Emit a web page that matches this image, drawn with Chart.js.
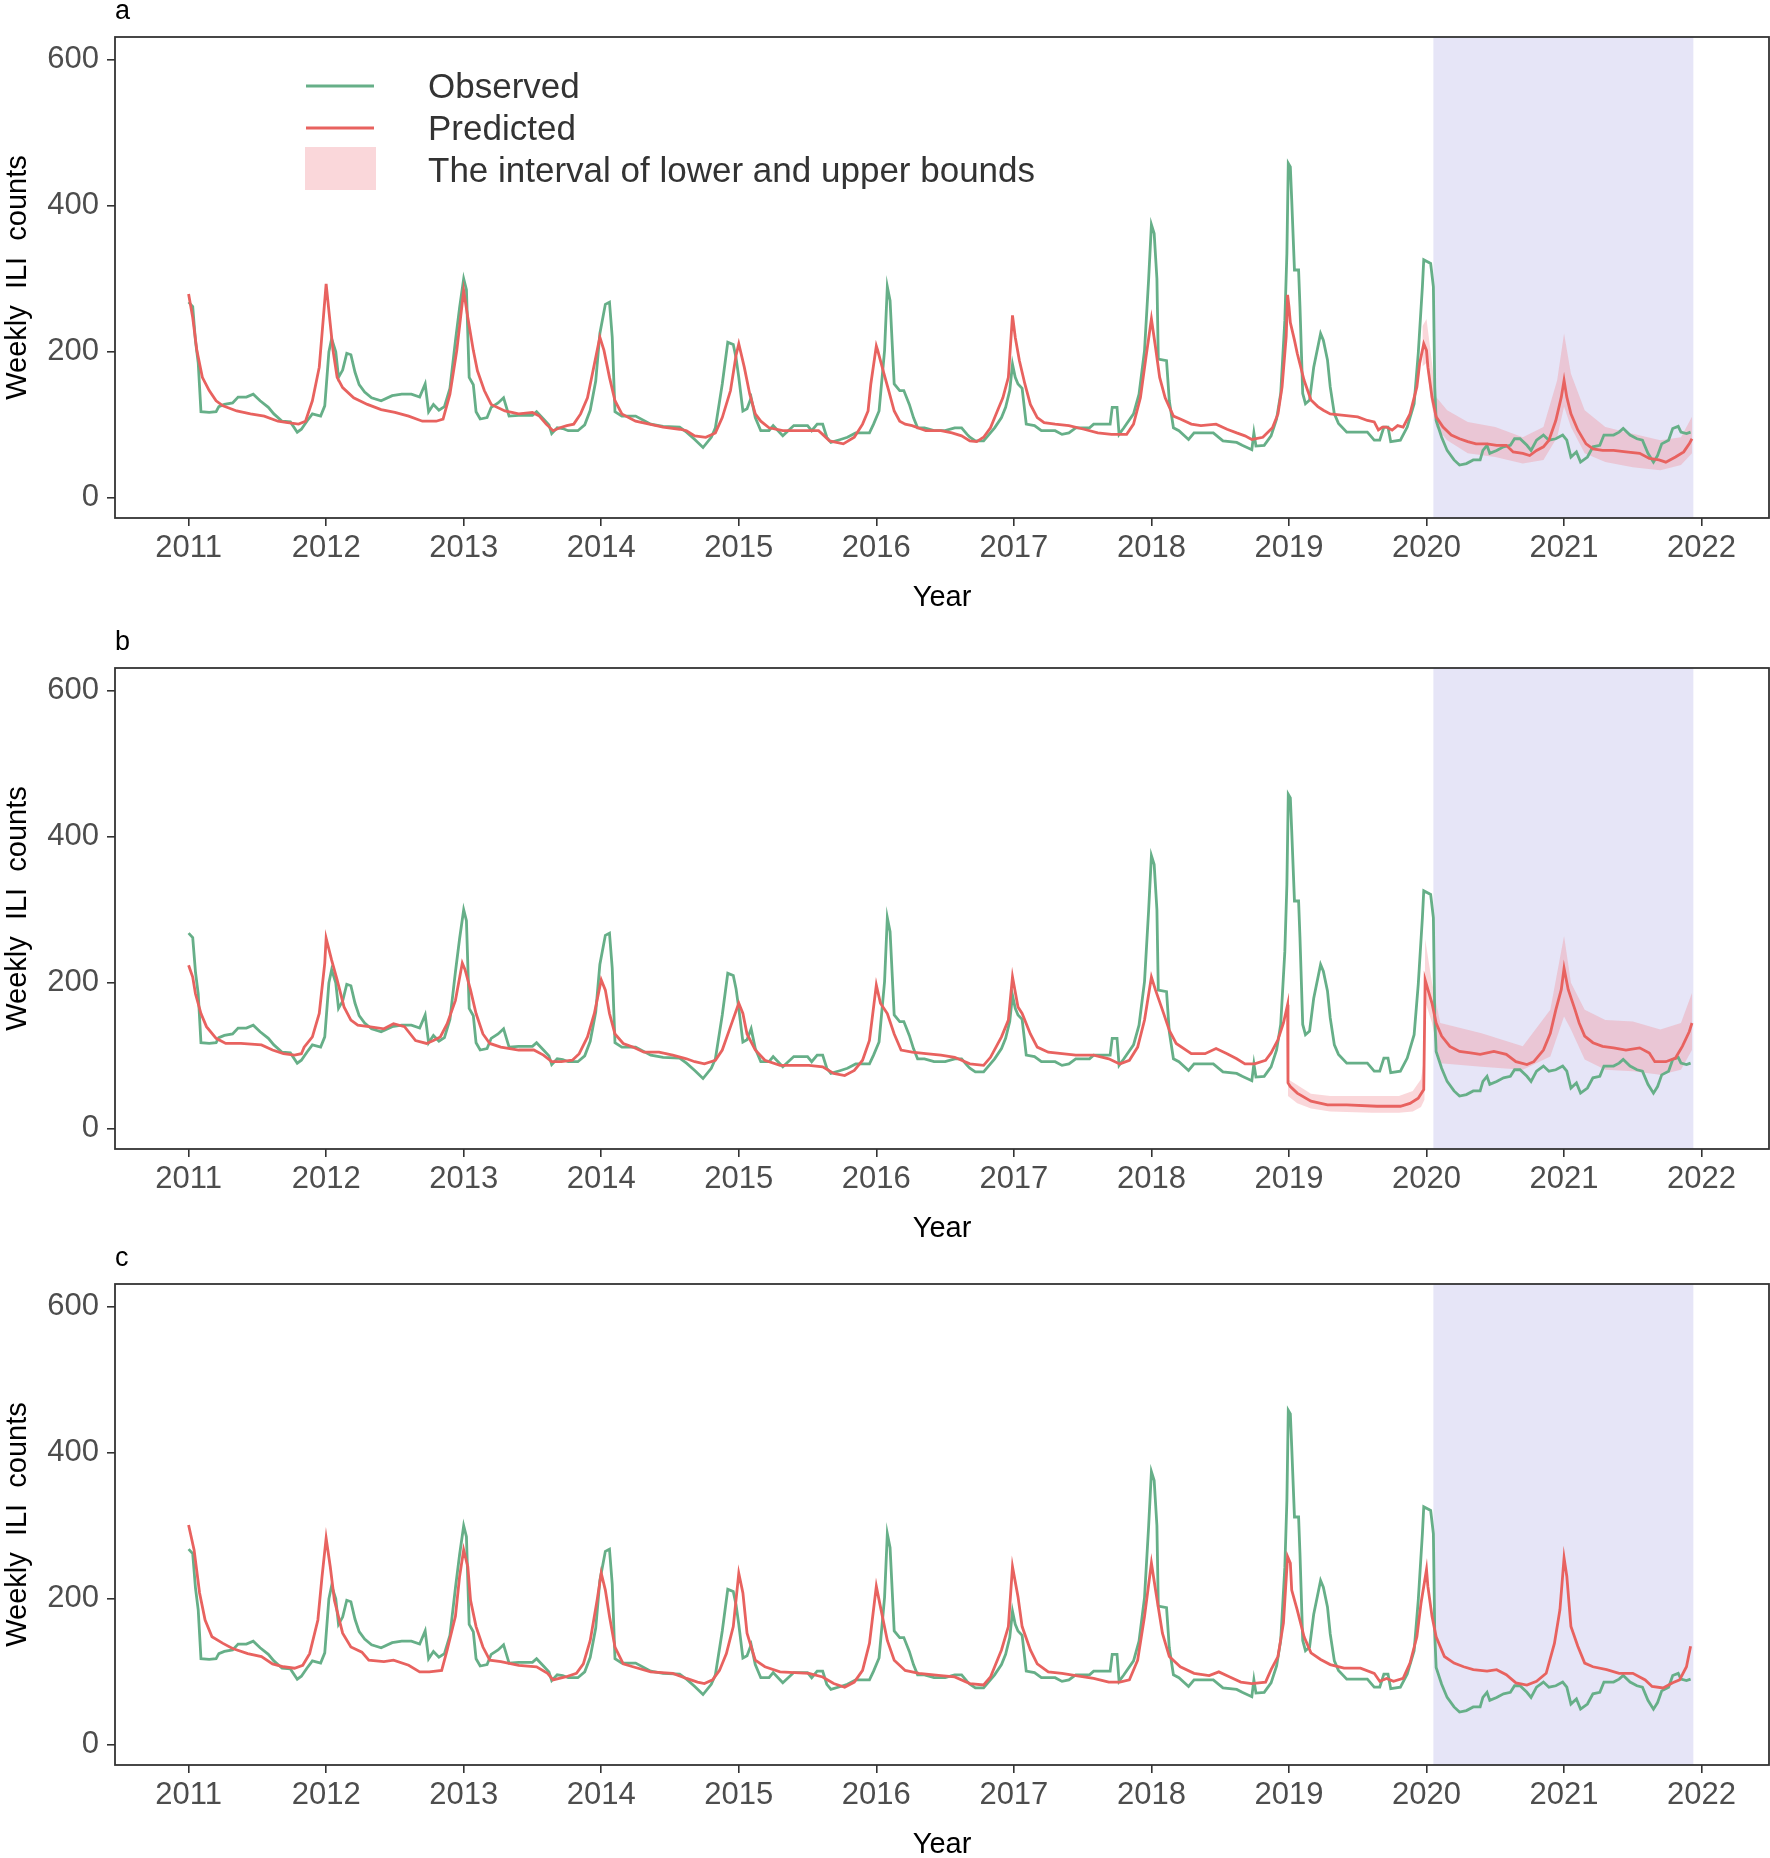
<!DOCTYPE html>
<html>
<head>
<meta charset="utf-8">
<title>Weekly ILI counts</title>
<script src="https://cdn.jsdelivr.net/npm/chart.js@4.4.0/dist/chart.umd.min.js"></script>
<style>
  html, body { margin: 0; padding: 0; background: #fff; overflow: hidden; }
  #wrap { position: relative; width: 1770px; height: 1858px; overflow: hidden; }
  .panel { position: absolute; left: 0; width: 1770px; height: 651px; }
</style>
</head>
<body>
<div id="wrap">
  <div class="panel" style="top:-20px"><canvas id="chartA" width="1770" height="651"></canvas></div>
  <div class="panel" style="top:611px"><canvas id="chartB" width="1770" height="651"></canvas></div>
  <div class="panel" style="top:1227px"><canvas id="chartC" width="1770" height="651"></canvas></div>
</div>
<script>
// ---- data: [year, weekly ILI count] ----
const yearTicks = [2011, 2012, 2013, 2014, 2015, 2016, 2017, 2018, 2019, 2020, 2021, 2022]
const countTicks = [0, 200, 400, 600]
const forecastWindow = [2020.05, 2021.94]

const observed = [
  [2011.00,268],[2011.03,262],[2011.05,215],[2011.07,185],[2011.09,118],[2011.15,117],[2011.20,118],[2011.22,125],
  [2011.26,128],[2011.32,130],[2011.36,138],[2011.42,138],[2011.47,142],[2011.52,133],[2011.58,124],[2011.62,115],
  [2011.68,105],[2011.74,104],[2011.79,90],[2011.82,94],[2011.86,105],[2011.90,115],[2011.96,112],[2011.99,126],
  [2012.02,200],[2012.04,218],[2012.07,200],[2012.09,165],[2012.12,175],[2012.15,198],[2012.18,196],[2012.21,172],
  [2012.24,155],[2012.28,145],[2012.33,137],[2012.40,133],[2012.48,140],[2012.55,142],[2012.62,142],[2012.68,138],
  [2012.72,156],[2012.745,118],[2012.78,128],[2012.82,120],[2012.86,125],[2012.90,150],[2012.94,215],[2012.97,260],
  [2013.00,300],[2013.02,285],[2013.04,165],[2013.07,155],[2013.09,118],[2013.12,108],[2013.17,110],[2013.20,124],
  [2013.25,130],[2013.29,137],[2013.33,112],[2013.40,113],[2013.50,113],[2013.53,118],[2013.58,108],[2013.62,100],
  [2013.64,88],[2013.68,96],[2013.72,95],[2013.76,92],[2013.83,92],[2013.88,100],[2013.92,120],[2013.96,160],
  [2013.99,225],[2014.03,265],[2014.06,268],[2014.08,220],[2014.10,118],[2014.15,112],[2014.25,112],[2014.36,101],
  [2014.45,98],[2014.57,97],[2014.62,90],[2014.68,80],[2014.74,69],[2014.80,83],[2014.83,96],[2014.88,156],
  [2014.92,213],[2014.96,210],[2014.98,192],[2015.00,165],[2015.03,119],[2015.06,122],[2015.09,137],[2015.12,110],
  [2015.16,92],[2015.22,92],[2015.25,99],[2015.32,85],[2015.40,99],[2015.50,99],[2015.53,92],[2015.57,101],
  [2015.61,101],[2015.64,83],[2015.67,76],[2015.74,80],[2015.79,83],[2015.85,89],[2015.95,89],[2015.98,101],
  [2016.02,119],[2016.06,202],[2016.08,289],[2016.10,270],[2016.13,156],[2016.17,147],[2016.20,147],[2016.24,128],
  [2016.27,110],[2016.30,96],[2016.35,96],[2016.42,92],[2016.50,92],[2016.57,96],[2016.62,96],[2016.66,87],
  [2016.68,83],[2016.72,78],[2016.78,78],[2016.82,87],[2016.86,96],[2016.91,110],[2016.94,124],[2016.97,147],
  [2016.99,183],[2017.01,165],[2017.03,156],[2017.06,150],[2017.09,101],[2017.15,99],[2017.20,92],[2017.30,92],
  [2017.35,87],[2017.40,89],[2017.45,96],[2017.55,96],[2017.58,101],[2017.70,101],[2017.715,124],[2017.75,124],
  [2017.765,87],[2017.80,96],[2017.87,115],[2017.91,142],[2017.95,202],[2017.98,300],[2018.00,374],[2018.02,362],
  [2018.04,300],[2018.05,190],[2018.11,188],[2018.13,133],[2018.16,96],[2018.20,92],[2018.27,80],[2018.31,89],
  [2018.45,89],[2018.52,78],[2018.62,76],[2018.66,72],[2018.73,66],[2018.745,89],[2018.76,71],[2018.82,72],
  [2018.87,85],[2018.91,108],[2018.94,143],[2018.97,243],[2018.985,335],[2018.995,458],[2019.01,453],[2019.02,408],
  [2019.04,312],[2019.07,312],[2019.08,262],[2019.10,143],[2019.12,129],[2019.15,134],[2019.18,179],[2019.23,225],
  [2019.25,216],[2019.28,189],[2019.30,152],[2019.33,115],[2019.36,102],[2019.42,90],[2019.57,90],[2019.62,79],
  [2019.66,79],[2019.69,97],[2019.72,97],[2019.74,77],[2019.81,79],[2019.86,97],[2019.91,129],[2019.94,198],
  [2019.97,289],[2019.98,326],[2020.03,321],[2020.05,289],[2020.06,152],[2020.07,106],[2020.11,83],[2020.15,65],
  [2020.20,52],[2020.24,45],[2020.29,47],[2020.34,52],[2020.39,52],[2020.41,65],[2020.44,72],[2020.46,61],
  [2020.51,65],[2020.56,70],[2020.61,72],[2020.64,81],[2020.68,81],[2020.73,72],[2020.76,65],[2020.80,79],
  [2020.85,86],[2020.89,79],[2020.94,81],[2020.99,86],[2021.02,79],[2021.05,56],[2021.09,63],[2021.12,49],
  [2021.17,56],[2021.21,70],[2021.26,72],[2021.29,86],[2021.36,86],[2021.40,90],[2021.43,95],[2021.48,86],
  [2021.53,81],[2021.57,79],[2021.61,61],[2021.65,49],[2021.68,58],[2021.71,74],[2021.76,79],[2021.79,95],
  [2021.83,98],[2021.85,90],[2021.89,88],[2021.92,90]
]

const predictedA = [
  [2011.00,279],[2011.03,247],[2011.06,202],[2011.10,165],[2011.15,147],[2011.20,133],[2011.25,126],[2011.35,119],
  [2011.45,115],[2011.55,112],[2011.65,105],[2011.72,103],[2011.80,101],[2011.85,105],[2011.90,133],[2011.95,179],
  [2011.98,247],[2012.00,293],[2012.02,256],[2012.05,202],[2012.08,165],[2012.12,151],[2012.20,137],[2012.30,128],
  [2012.40,121],[2012.50,117],[2012.60,112],[2012.70,105],[2012.80,105],[2012.85,108],[2012.90,142],[2012.95,202],
  [2013.00,284],[2013.03,247],[2013.07,202],[2013.10,174],[2013.15,147],[2013.20,128],[2013.30,119],[2013.40,115],
  [2013.50,117],[2013.55,112],[2013.60,101],[2013.65,92],[2013.70,96],[2013.75,99],[2013.80,101],[2013.85,115],
  [2013.90,137],[2013.95,183],[2013.99,220],[2014.02,202],[2014.06,165],[2014.10,133],[2014.15,115],[2014.25,105],
  [2014.35,101],[2014.45,97],[2014.57,94],[2014.62,92],[2014.68,85],[2014.76,83],[2014.83,89],[2014.88,110],
  [2014.94,147],[2014.98,195],[2015.00,211],[2015.04,179],[2015.08,142],[2015.12,115],[2015.16,105],[2015.22,96],
  [2015.32,92],[2015.45,92],[2015.58,92],[2015.61,87],[2015.66,78],[2015.76,74],[2015.84,83],[2015.90,101],
  [2015.94,119],[2015.96,156],[2016.00,208],[2016.01,202],[2016.05,174],[2016.09,147],[2016.13,119],[2016.17,105],
  [2016.21,101],[2016.26,99],[2016.36,92],[2016.47,92],[2016.55,89],[2016.62,85],[2016.68,78],[2016.73,77],
  [2016.78,83],[2016.83,96],[2016.88,119],[2016.92,137],[2016.96,165],[2016.99,250],[2017.01,220],[2017.04,188],
  [2017.08,156],[2017.12,128],[2017.17,110],[2017.22,103],[2017.30,101],[2017.40,99],[2017.51,94],[2017.61,89],
  [2017.71,87],[2017.82,87],[2017.87,101],[2017.92,137],[2017.96,192],[2018.00,245],[2018.03,206],[2018.06,165],
  [2018.10,137],[2018.16,112],[2018.21,108],[2018.29,101],[2018.36,99],[2018.47,101],[2018.55,94],[2018.62,89],
  [2018.68,85],[2018.73,80],[2018.81,83],[2018.88,96],[2018.92,115],[2018.95,152],[2018.98,221],[2018.99,278],
  [2019.00,262],[2019.01,240],[2019.04,216],[2019.06,198],[2019.11,161],[2019.16,134],[2019.21,125],[2019.25,120],
  [2019.30,115],[2019.40,113],[2019.50,111],[2019.57,106],[2019.62,104],[2019.65,93],[2019.68,97],[2019.71,97],
  [2019.75,93],[2019.79,99],[2019.83,97],[2019.88,115],[2019.93,152],[2019.95,184],[2019.98,211],[2020.00,202],
  [2020.01,179],[2020.04,138],[2020.07,111],[2020.12,97],[2020.18,86],[2020.24,81],[2020.30,77],[2020.36,74],
  [2020.44,74],[2020.51,72],[2020.58,72],[2020.63,63],[2020.70,61],[2020.75,58],[2020.80,65],[2020.85,70],
  [2020.89,79],[2020.94,106],[2020.98,138],[2021.00,161],[2021.02,138],[2021.05,115],[2021.10,93],[2021.16,74],
  [2021.21,67],[2021.28,65],[2021.36,65],[2021.45,63],[2021.55,61],[2021.62,54],[2021.69,52],[2021.74,49],
  [2021.81,56],[2021.87,63],[2021.91,74],[2021.93,81]
]

const predictedB = [
  [2011.00,224],[2011.03,208],[2011.05,185],[2011.09,158],[2011.13,140],[2011.20,124],[2011.27,117],[2011.38,117],
  [2011.53,115],[2011.61,108],[2011.69,103],[2011.77,101],[2011.82,103],[2011.84,112],[2011.90,126],[2011.95,158],
  [2011.99,227],[2012.00,261],[2012.04,231],[2012.08,204],[2012.13,167],[2012.18,149],[2012.23,142],[2012.31,140],
  [2012.42,137],[2012.49,144],[2012.57,140],[2012.65,121],[2012.73,117],[2012.78,121],[2012.83,126],[2012.88,144],
  [2012.94,176],[2012.99,227],[2013.01,218],[2013.05,190],[2013.09,158],[2013.14,130],[2013.19,117],[2013.27,112],
  [2013.40,108],[2013.51,108],[2013.58,101],[2013.64,92],[2013.71,92],[2013.79,94],[2013.84,103],[2013.90,126],
  [2013.95,158],[2014.00,204],[2014.03,190],[2014.06,158],[2014.10,130],[2014.16,117],[2014.23,112],[2014.31,105],
  [2014.42,105],[2014.52,101],[2014.62,96],[2014.68,92],[2014.75,89],[2014.83,94],[2014.88,108],[2014.94,140],
  [2015.00,172],[2015.03,158],[2015.06,130],[2015.12,108],[2015.19,94],[2015.30,87],[2015.51,87],[2015.61,85],
  [2015.69,76],[2015.77,73],[2015.84,80],[2015.90,94],[2015.95,121],[2016.00,197],[2016.03,172],[2016.08,158],
  [2016.13,130],[2016.18,108],[2016.26,105],[2016.36,103],[2016.47,101],[2016.57,98],[2016.68,89],[2016.78,87],
  [2016.83,98],[2016.91,126],[2016.96,149],[2016.99,208],[2017.03,167],[2017.06,158],[2017.12,130],[2017.17,112],
  [2017.25,105],[2017.35,103],[2017.45,101],[2017.58,101],[2017.69,96],[2017.77,89],[2017.84,94],[2017.90,112],
  [2017.95,149],[2018.00,208],[2018.03,190],[2018.08,163],[2018.13,135],[2018.18,117],[2018.29,103],[2018.39,103],
  [2018.47,110],[2018.55,103],[2018.62,96],[2018.68,89],[2018.75,89],[2018.83,94],[2018.87,104],[2018.92,122],
  [2018.96,145],[2018.99,170],[2018.993,63],[2019.01,58],[2019.06,49],[2019.16,38],[2019.28,33],[2019.42,33],
  [2019.64,31],[2019.81,31],[2019.88,35],[2019.94,42],[2019.98,54],[2019.99,204],[2020.01,191],[2020.04,172],
  [2020.07,145],[2020.11,127],[2020.17,113],[2020.24,106],[2020.32,104],[2020.39,102],[2020.49,106],[2020.58,102],
  [2020.65,92],[2020.73,88],[2020.78,92],[2020.85,108],[2020.90,131],[2020.94,163],[2020.98,191],[2021.00,220],
  [2021.03,191],[2021.08,163],[2021.11,145],[2021.15,127],[2021.21,118],[2021.28,113],[2021.36,111],[2021.45,108],
  [2021.55,111],[2021.62,104],[2021.66,92],[2021.74,92],[2021.81,97],[2021.86,113],[2021.91,133],[2021.93,145]
]

const predictedC = [
  [2011.00,301],[2011.04,267],[2011.08,208],[2011.12,171],[2011.17,148],[2011.25,139],[2011.32,132],[2011.43,125],
  [2011.53,121],[2011.61,111],[2011.69,107],[2011.77,105],[2011.83,109],[2011.88,125],[2011.94,171],[2011.97,230],
  [2012.00,283],[2012.03,244],[2012.06,198],[2012.12,153],[2012.18,134],[2012.26,127],[2012.31,116],[2012.42,114],
  [2012.49,116],[2012.60,109],[2012.68,100],[2012.75,100],[2012.84,102],[2012.88,130],[2012.94,176],[2012.97,230],
  [2013.00,267],[2013.03,244],[2013.05,198],[2013.09,162],[2013.14,134],[2013.19,116],[2013.27,114],[2013.40,109],
  [2013.53,107],[2013.61,98],[2013.65,89],[2013.74,93],[2013.82,98],[2013.87,111],[2013.92,143],[2013.97,198],
  [2014.00,235],[2014.03,212],[2014.06,176],[2014.10,134],[2014.16,111],[2014.23,107],[2014.36,100],[2014.52,98],
  [2014.62,91],[2014.70,86],[2014.75,84],[2014.81,89],[2014.86,102],[2014.91,125],[2014.96,162],[2015.00,235],
  [2015.03,208],[2015.06,153],[2015.12,116],[2015.19,107],[2015.30,100],[2015.51,98],[2015.61,93],[2015.69,84],
  [2015.77,79],[2015.84,86],[2015.90,102],[2015.95,139],[2016.00,217],[2016.03,189],[2016.08,143],[2016.13,116],
  [2016.21,102],[2016.31,98],[2016.47,95],[2016.57,93],[2016.68,84],[2016.78,82],[2016.83,93],[2016.91,130],
  [2016.96,162],[2016.99,244],[2017.03,203],[2017.06,162],[2017.12,130],[2017.17,111],[2017.25,100],[2017.35,98],
  [2017.45,95],[2017.58,91],[2017.69,86],[2017.77,86],[2017.84,89],[2017.90,116],[2017.95,176],[2018.00,249],
  [2018.03,212],[2018.08,153],[2018.13,121],[2018.21,107],[2018.31,98],[2018.42,95],[2018.49,100],[2018.57,93],
  [2018.65,86],[2018.73,84],[2018.83,86],[2018.87,103],[2018.92,121],[2018.96,167],[2018.99,258],[2019.01,249],
  [2019.02,212],[2019.06,185],[2019.11,148],[2019.16,126],[2019.23,117],[2019.30,110],[2019.40,105],[2019.52,105],
  [2019.62,98],[2019.66,87],[2019.71,91],[2019.76,87],[2019.83,91],[2019.88,112],[2019.93,148],[2019.96,194],
  [2020.00,240],[2020.01,217],[2020.04,176],[2020.07,148],[2020.13,121],[2020.20,112],[2020.27,107],[2020.34,103],
  [2020.44,101],[2020.51,103],[2020.58,96],[2020.65,85],[2020.73,82],[2020.80,87],[2020.87,98],[2020.93,139],
  [2020.97,185],[2021.00,256],[2021.02,231],[2021.05,162],[2021.10,135],[2021.15,112],[2021.21,107],[2021.31,103],
  [2021.40,98],[2021.50,98],[2021.59,89],[2021.64,80],[2021.72,78],[2021.79,85],[2021.84,89],[2021.89,107],
  [2021.92,135]
]

// [year, lower bound, upper bound]
const intervalA = [
  [2019.97,180,235],[2020.00,185,245],[2020.03,135,200],[2020.07,97,138],[2020.15,79,120],[2020.30,61,104],
  [2020.50,56,97],[2020.70,47,83],[2020.85,52,97],[2020.95,83,161],[2021.00,125,225],[2021.05,97,170],
  [2021.15,61,120],[2021.30,49,97],[2021.50,42,88],[2021.70,38,79],[2021.85,45,83],[2021.93,61,111]
]

const intervalB = [
  [2018.993,45,68],[2019.06,35,60],[2019.16,28,48],[2019.30,24,45],[2019.60,22,45],[2019.80,22,45],
  [2019.90,24,52],[2019.96,30,68],[2019.985,40,100],[2019.99,175,260],[2020.04,145,200],[2020.10,90,145],
  [2020.40,85,131],[2020.70,81,113],[2020.90,99,163],[2021.00,154,264],[2021.05,136,200],[2021.15,95,163],
  [2021.30,81,149],[2021.50,79,147],[2021.70,74,136],[2021.85,81,145],[2021.93,108,186]
]

const GREEN = "#66AF88"
const RED = "#E8625F"
const BAND = "rgba(240,140,150,0.35)"
const SHADE = "#E6E5F7"
const FONT = "'Liberation Sans', Arial, sans-serif"

Chart.defaults.font.family = FONT

function toXY(rows, col = 1) {
  return rows.map(r => ({ x: r[0], y: r[col] }))
}

const shadePlugin = {
  id: "shade",
  beforeDatasetsDraw(chart) {
    const { ctx, chartArea } = chart
    const x = chart.scales.x
    ctx.save()
    ctx.fillStyle = SHADE
    const x0 = x.getPixelForValue(forecastWindow[0])
    const x1 = x.getPixelForValue(forecastWindow[1])
    ctx.fillRect(x0, chartArea.top, x1 - x0, chartArea.bottom - chartArea.top)
    ctx.restore()
  }
}

const framePlugin = {
  id: "frame",
  afterDraw(chart, args, opts) {
    const { ctx, chartArea } = chart
    const top = chartArea.top
    ctx.save()
    ctx.strokeStyle = "#333"
    ctx.lineWidth = 1.8
    ctx.strokeRect(chartArea.left, top, chartArea.right - chartArea.left, chartArea.bottom - top)
    // panel letter
    ctx.fillStyle = "#000"
    ctx.font = `27px ${FONT}`
    ctx.textBaseline = "alphabetic"
    ctx.textAlign = "left"
    ctx.fillText(opts.letter, 115, top - 18)
    if (opts.legend) {
      ctx.lineWidth = 2.8
      ctx.strokeStyle = GREEN
      ctx.beginPath(); ctx.moveTo(306, top + 49); ctx.lineTo(374, top + 49); ctx.stroke()
      ctx.strokeStyle = RED
      ctx.beginPath(); ctx.moveTo(306, top + 91); ctx.lineTo(374, top + 91); ctx.stroke()
      ctx.fillStyle = BAND
      ctx.fillRect(305, top + 110, 71, 43)
      ctx.fillStyle = "#333"
      ctx.font = `35px ${FONT}`
      ctx.textBaseline = "middle"
      ctx.fillText("Observed", 428, top + 51)
      ctx.fillText("Predicted", 428, top + 93)
      ctx.fillText("The interval of lower and upper bounds", 428, top + 135)
    }
    ctx.restore()
  }
}

function makePanel(id, letter, predicted, interval, legend) {
  const datasets = []
  if (interval) {
    datasets.push({
      data: toXY(interval, 1), borderWidth: 0, pointRadius: 0, fill: false, order: 3
    })
    datasets.push({
      data: toXY(interval, 2), borderWidth: 0, pointRadius: 0, fill: "-1",
      backgroundColor: BAND, order: 3
    })
  }
  datasets.push({
    label: "Observed", data: toXY(observed), borderColor: GREEN, borderWidth: 2.8,
    pointRadius: 0, tension: 0, fill: false, order: 2
  })
  datasets.push({
    label: "Predicted", data: toXY(predicted), borderColor: RED, borderWidth: 2.8,
    pointRadius: 0, tension: 0, fill: false, order: 1
  })

  const gridOpts = { drawOnChartArea: false, drawTicks: true, tickLength: 8, color: "#333", lineWidth: 1.6 }

  return new Chart(document.getElementById(id), {
    type: "line",
    data: { datasets },
    options: {
      responsive: false,
      animation: false,
      events: [],
      layout: { padding: { top: 57, right: 1, left: 0, bottom: 0 } },
      plugins: {
        legend: { display: false },
        tooltip: { enabled: false },
        frame: { letter, legend }
      },
      scales: {
        x: {
          type: "linear",
          min: 2010.465,
          max: 2022.49,
          afterBuildTicks: s => { s.ticks = yearTicks.map(v => ({ value: v })) },
          afterFit: s => { s.height = 113 },
          ticks: { autoSkip: false, maxRotation: 0, color: "#4D4D4D", font: { size: 31 }, padding: 4, callback: v => String(v) },
          grid: gridOpts,
          border: { display: false },
          title: { display: true, text: "Year", color: "#000", font: { size: 29 }, padding: { top: 0, bottom: 16 } }
        },
        y: {
          min: -27.5,
          max: 631,
          afterBuildTicks: s => { s.ticks = countTicks.map(v => ({ value: v })) },
          afterFit: s => { s.width = 115 },
          ticks: { color: "#4D4D4D", font: { size: 31 }, padding: 8, callback: v => String(v) },
          grid: gridOpts,
          border: { display: false },
          title: { display: true, text: "Weekly  ILI  counts", color: "#000", font: { size: 29 }, padding: { top: 1, bottom: 0 } }
        }
      }
    },
    plugins: [shadePlugin, framePlugin]
  })
}

makePanel("chartA", "a", predictedA, intervalA, true)
makePanel("chartB", "b", predictedB, intervalB, false)
makePanel("chartC", "c", predictedC, null, false)
</script>
</body>
</html>
